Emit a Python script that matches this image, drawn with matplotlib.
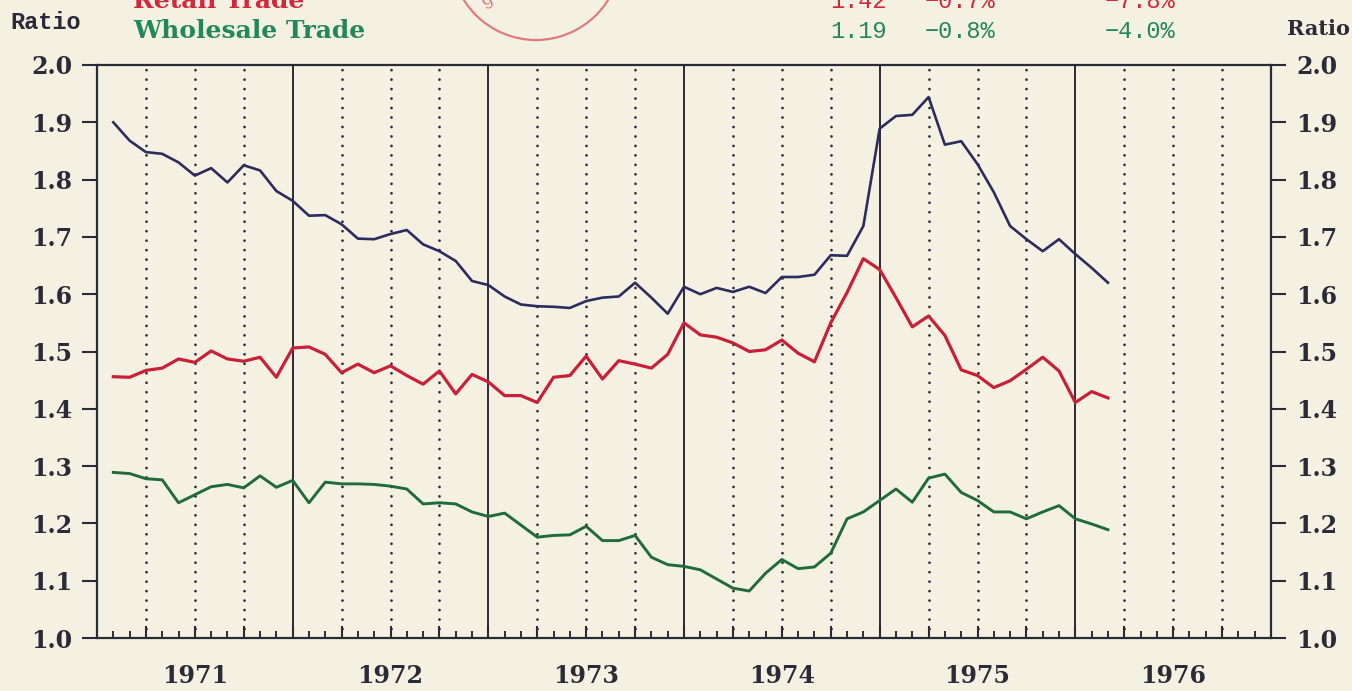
import numpy as np
import matplotlib
matplotlib.use("Agg")
import matplotlib.pyplot as plt
from matplotlib.patches import Ellipse
from matplotlib.transforms import blended_transform_factory

# Donnees mensuelles, janvier 1971 -> fevrier 1976 (points en fin de mois)
total = [1.900, 1.868, 1.848, 1.845, 1.830, 1.807, 1.820, 1.795, 1.825, 1.816,
         1.780, 1.763, 1.737, 1.738, 1.722, 1.697, 1.696, 1.705, 1.712, 1.687,
         1.675, 1.658, 1.623, 1.616, 1.596, 1.582, 1.579, 1.578, 1.576, 1.588,
         1.594, 1.596, 1.620, 1.594, 1.566, 1.613, 1.600, 1.611, 1.604, 1.613,
         1.602, 1.630, 1.630, 1.634, 1.668, 1.667, 1.719, 1.889, 1.911, 1.913,
         1.944, 1.861, 1.867, 1.827, 1.778, 1.719, 1.696, 1.675, 1.696, 1.670,
         1.646, 1.620]
retail = [1.456, 1.455, 1.467, 1.471, 1.487, 1.481, 1.501, 1.487, 1.483, 1.490,
          1.455, 1.506, 1.508, 1.495, 1.463, 1.478, 1.463, 1.475, 1.458, 1.443,
          1.466, 1.426, 1.460, 1.447, 1.423, 1.423, 1.411, 1.455, 1.458, 1.492,
          1.452, 1.484, 1.478, 1.471, 1.495, 1.550, 1.529, 1.525, 1.515, 1.500,
          1.503, 1.520, 1.497, 1.482, 1.550, 1.603, 1.662, 1.643, 1.594, 1.543,
          1.562, 1.528, 1.468, 1.458, 1.437, 1.449, 1.469, 1.490, 1.466, 1.411,
          1.430, 1.419]
wholesale = [1.289, 1.287, 1.278, 1.276, 1.236, 1.250, 1.264, 1.268, 1.262, 1.283,
             1.263, 1.275, 1.236, 1.272, 1.269, 1.269, 1.268, 1.265, 1.260, 1.234,
             1.236, 1.234, 1.220, 1.212, 1.218, 1.197, 1.176, 1.179, 1.180, 1.195,
             1.170, 1.170, 1.179, 1.141, 1.128, 1.125, 1.119, 1.103, 1.087, 1.082,
             1.113, 1.137, 1.121, 1.124, 1.148, 1.208, 1.220, 1.240, 1.260, 1.237,
             1.279, 1.286, 1.254, 1.240, 1.220, 1.220, 1.208, 1.220, 1.231, 1.208,
             1.199, 1.189]
years = ["1971", "1972", "1973", "1974", "1975", "1976"]
yticks = [1.0, 1.1, 1.2, 1.3, 1.4, 1.5, 1.6, 1.7, 1.8, 1.9, 2.0]
yticklabels = ["1.0", "1.1", "1.2", "1.3", "1.4", "1.5", "1.6", "1.7", "1.8", "1.9", "2.0"]
rows = [
    ("Retail Trade", "1.42", "\u22120.7%", "\u22127.8%"),
    ("Wholesale Trade", "1.19", "\u22120.8%", "\u22124.0%"),
]

BG = "#f4f1e3"
INK = "#2b2a36"
NAVY = "#2e2b5e"
RED = "#c91f37"
GREEN = "#1f6b3c"
TXT_RED = "#d2283c"
TXT_GREEN = "#23875a"

serif = "DejaVu Serif"
mono = "Liberation Mono"

fig = plt.figure(figsize=(13.52, 6.91), dpi=100, facecolor=BG)
ax = fig.add_axes([97 / 1352, 53 / 691, 1174 / 1352, 573 / 691])
ax.set_facecolor(BG)

# x en mois depuis janvier 1971, chaque point place en fin de mois
x = np.arange(len(total)) + 1
nmonths = 12 * len(years)

# lignes verticales : annees pleines, trimestres en pointilles
for m in range(3, nmonths, 3):
    if m % 12 == 0:
        ax.axvline(m, color=INK, lw=1.4, zorder=1)
    else:
        ax.axvline(m, color=INK, lw=2.0, ls=(0, (0.01, 3.4)),
                   dash_capstyle="round", zorder=1)

ax.plot(x, total, color=NAVY, lw=1.9, zorder=3)
ax.plot(x, retail, color=RED, lw=2.3, zorder=3)
ax.plot(x, wholesale, color=GREEN, lw=2.1, zorder=3)

ax.set_xlim(0, nmonths)
ax.set_ylim(1.0, 2.0)

for side in ["left", "right", "top", "bottom"]:
    ax.spines[side].set_color(INK)
    ax.spines[side].set_linewidth(1.6)

ax.set_yticks(yticks)
ax.set_yticklabels(yticklabels)
ax.tick_params(axis="y", direction="out", length=11, width=1.5, color=INK,
               left=True, right=True, labelleft=True, labelright=True,
               labelsize=17, labelcolor=INK, pad=7)
for lab in ax.get_yticklabels():
    lab.set_fontfamily(serif)
    lab.set_fontweight("bold")

ax.set_xticks(range(3, nmonths, 3))
ax.set_xticks(range(1, nmonths), minor=True)
ax.tick_params(axis="x", which="major", direction="in", length=9, width=1.5,
               color=INK, labelbottom=False)
ax.tick_params(axis="x", which="minor", direction="in", length=5, width=1.4,
               color=INK)

trans = blended_transform_factory(ax.transData, ax.transAxes)
for k, yr in enumerate(years):
    ax.text(12 * k + 6, -0.066, yr, transform=trans, ha="center", va="center",
            fontsize=17, family=serif, weight="bold", color=INK)

# en-tete (coupe en haut dans l'original)
fig.text(10 / 1352, 1 - 29 / 691, "Ratio", family=mono, fontsize=17,
         weight="bold", color=INK, va="baseline")
fig.text(1350 / 1352, 1 - 35 / 691, "Ratio", family=serif, fontsize=15,
         weight="bold", color=INK, va="baseline", ha="right")

row_y = [1 - 8 / 691, 1 - 38 / 691]
row_col = [TXT_RED, TXT_GREEN]
for (name, v1, v2, v3), yy, c in zip(rows, row_y, row_col):
    fig.text(133 / 1352, yy, name, family=serif, fontsize=18, weight="bold",
             color=c, va="baseline")
    fig.text(858 / 1352, yy, v1, family=mono, fontsize=17, color=c,
             va="baseline", ha="center")
    fig.text(960 / 1352, yy, v2, family=mono, fontsize=17, color=c,
             va="baseline", ha="center")
    fig.text(1140 / 1352, yy, v3, family=mono, fontsize=17, color=c,
             va="baseline", ha="center")

# tampon rouge en haut
fig.add_artist(Ellipse((536 / 1352, 1 + 45 / 691), 170 / 1352, 170 / 691,
                       fill=False, ec="#e07c7c", lw=1.6,
                       transform=fig.transFigure))
fig.text(487 / 1352, 1 - 6 / 691, "g", color="#e07c7c", fontsize=13,
         family=serif, rotation=25, va="baseline", ha="center")

fig.savefig("out.png", dpi=100, facecolor=BG)
